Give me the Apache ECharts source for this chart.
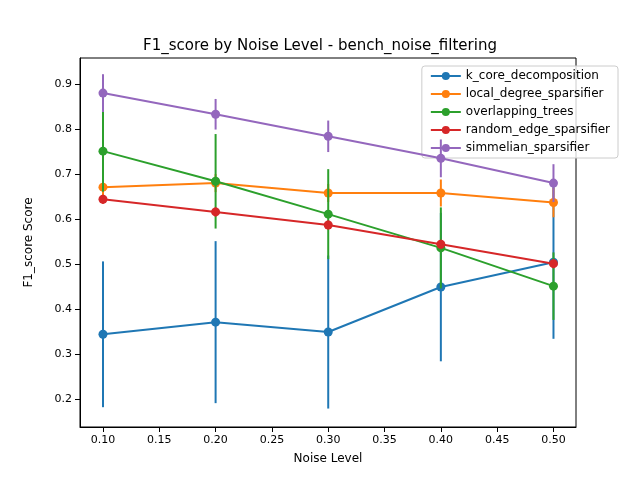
<!DOCTYPE html><html><head><meta charset="utf-8"><script src="https://cdn.jsdelivr.net/npm/echarts@6/dist/echarts.min.js"></script></head><body style="margin:0"><div id="c" style="width:640px;height:480px"></div><script>
const xs=[0.1,0.2,0.3,0.4,0.5];
const xTicks=[0.10,0.15,0.20,0.25,0.30,0.35,0.40,0.45,0.50];
const yTicks=[0.2,0.3,0.4,0.5,0.6,0.7,0.8,0.9];
const names=['k_core_decomposition','local_degree_sparsifier','overlapping_trees','random_edge_sparsifier','simmelian_sparsifier'];
const colors=['#1f77b4','#ff7f0e','#2ca02c','#d62728','#9467bd'];
const kcore=[0.344,0.371,0.349,0.449,0.504], kcoreErr=[0.162,0.18,0.17,0.165,0.17];
const local=[0.671,0.680,0.658,0.658,0.637], localErr=[0.02,0.02,0.02,0.03,0.033];
const trees=[0.751,0.684,0.611,0.536,0.451], treesErr=[0.09,0.105,0.1,0.09,0.075];
const rnd=[0.644,0.616,0.587,0.544,0.501], rndErr=[0.01,0.01,0.01,0.01,0.01];
const simm=[0.880,0.833,0.784,0.735,0.680], simmErr=[0.042,0.034,0.035,0.042,0.042];
const vals=[kcore,local,trees,rnd,simm], errs=[kcoreErr,localErr,treesErr,rndErr,simmErr];
const series=[];
vals.forEach((v,i)=>{
 series.push({type:'custom',name:names[i]+' err',z:i*2,data:xs.map((x,j)=>[x,v[j]-errs[i][j],v[j]+errs[i][j]]),
  renderItem:(p,api)=>{const a=api.coord([api.value(0),api.value(1)]),b=api.coord([api.value(0),api.value(2)]);
   return {type:'line',shape:{x1:a[0],y1:a[1],x2:b[0],y2:b[1]},style:{stroke:colors[i],lineWidth:2}};}});
 series.push({type:'line',name:names[i],z:i*2+1,data:xs.map((x,j)=>[x,v[j]]),symbol:'circle',symbolSize:9,
  lineStyle:{color:colors[i],width:2},itemStyle:{color:colors[i]}});
});
const ch=echarts.init(document.getElementById('c'));
ch.setOption({animation:false,color:colors,
 title:{text:'F1_score by Noise Level - bench_noise_filtering',left:'center',top:34,textStyle:{fontFamily:'DejaVu Sans',fontSize:15,fontWeight:'normal',color:'#000'}},
 grid:{left:80,right:64,top:58,bottom:53,show:true,borderColor:'#000',borderWidth:1},
 legend:{data:names,orient:'vertical',right:22,top:66,itemGap:6,itemWidth:30,itemHeight:10,backgroundColor:'rgba(255,255,255,0.8)',borderColor:'#ccc',borderWidth:1,borderRadius:3,padding:[4,8],textStyle:{fontFamily:'DejaVu Sans',fontSize:12,color:'#000'}},
 xAxis:{type:'value',min:0.0796,max:0.52,name:'Noise Level',nameLocation:'middle',nameGap:26,nameTextStyle:{fontFamily:'DejaVu Sans',fontSize:12,color:'#000'},
  axisLine:{lineStyle:{color:'#000'}},splitLine:{show:false},
  axisTick:{customValues:xTicks,lineStyle:{color:'#000'}},
  axisLabel:{fontFamily:'DejaVu Sans',color:'#000',fontSize:11,customValues:xTicks,formatter:v=>v.toFixed(2)}},
 yAxis:{type:'value',min:0.138,max:0.958,name:'F1_score Score',nameLocation:'middle',nameGap:45,nameTextStyle:{fontFamily:'DejaVu Sans',fontSize:12,color:'#000'},
  axisLine:{show:true,lineStyle:{color:'#000'}},splitLine:{show:false},
  axisLabel:{fontFamily:'DejaVu Sans',color:'#000',fontSize:11,customValues:yTicks,formatter:v=>v.toFixed(1)},
  axisTick:{show:true,customValues:yTicks,lineStyle:{color:'#000'}}},
 series});
</script></body></html>
